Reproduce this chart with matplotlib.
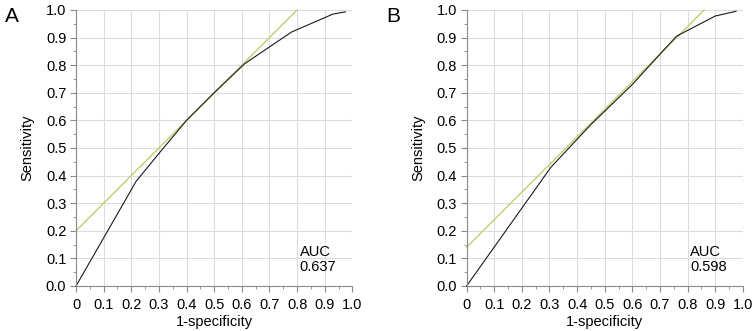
import matplotlib
matplotlib.use("Agg")
import matplotlib.pyplot as plt
from matplotlib.ticker import MultipleLocator, FixedLocator

plt.rcParams['font.family'] = ['Liberation Sans', 'DejaVu Sans']

# panel A roc curve
roc_a_x = [0.0, 0.218, 0.30, 0.40, 0.50, 0.61, 0.78, 0.93, 0.975]
roc_a_y = [0.0, 0.38, 0.48, 0.60, 0.70, 0.805, 0.92, 0.985, 0.993]
ref_a_x = [0.0, 0.8]
ref_a_y = [0.2, 1.0]
auc_a = "0.637"

# panel B roc curve
roc_b_x = [0.0, 0.305, 0.45, 0.60, 0.70, 0.76, 0.90, 0.975]
roc_b_y = [0.0, 0.43, 0.585, 0.73, 0.84, 0.905, 0.978, 0.995]
ref_b_x = [0.0, 0.86]
ref_b_y = [0.14, 1.0]
auc_b = "0.598"

xtick_labels = ['0', '0.1', '0.2', '0.3', '0.4', '0.5', '0.6', '0.7', '0.8', '0.9', '1.0']
ytick_labels = ['0.0', '0.1', '0.2', '0.3', '0.4', '0.5', '0.6', '0.7', '0.8', '0.9', '1.0']

fig = plt.figure(figsize=(7.55, 3.31), dpi=100)

panels = [
    (0.1007, 0.016, 'A', roc_a_x, roc_a_y, ref_a_x, ref_a_y, auc_a),
    (0.618, 0.521, 'B', roc_b_x, roc_b_y, ref_b_x, ref_b_y, auc_b),
]

fs = 10.5
for left, lab_x, lab, rx, ry, fx, fy, auc in panels:
    ax = fig.add_axes([left, 0.136, 0.366, 0.834])
    ax.set_xlim(0, 1)
    ax.set_ylim(0, 1)
    ticks = [i / 10 for i in range(11)]
    ax.xaxis.set_major_locator(FixedLocator(ticks))
    ax.yaxis.set_major_locator(FixedLocator(ticks))
    ax.set_xticklabels(xtick_labels)
    ax.set_yticklabels(ytick_labels)
    ax.xaxis.set_minor_locator(MultipleLocator(0.05))
    ax.yaxis.set_minor_locator(MultipleLocator(0.05))
    ax.grid(True, which='major', color='#dcdcdc', lw=0.8)
    ax.set_axisbelow(True)
    for s in ['top', 'right']:
        ax.spines[s].set_visible(False)
    for s in ['left', 'bottom']:
        ax.spines[s].set_color('#8a8a8a')
        ax.spines[s].set_linewidth(0.8)
    ax.tick_params(which='major', length=4, color='#8a8a8a', labelsize=fs)
    ax.tick_params(axis='x', which='major', pad=5)
    ax.tick_params(axis='y', which='major', pad=3)
    ax.tick_params(which='minor', length=2, color='#8a8a8a')
    ax.plot(fx, fy, color='#c8cc6e', lw=1.0, clip_on=False)
    ax.plot(rx, ry, color='#1a1a1a', lw=0.8, clip_on=False)
    ax.text(0.81, 0.15, 'AUC\n' + auc, fontsize=fs, va='top', ha='left', linespacing=1.15)
    ax.set_xlabel('1-specificity', fontsize=fs, labelpad=2)
    ax.set_ylabel('Sensitivity', fontsize=fs, labelpad=8)
    fig.text(lab_x, 0.95, lab, fontsize=15, va='center', ha='center')

fig.savefig('out.png', dpi=100)
